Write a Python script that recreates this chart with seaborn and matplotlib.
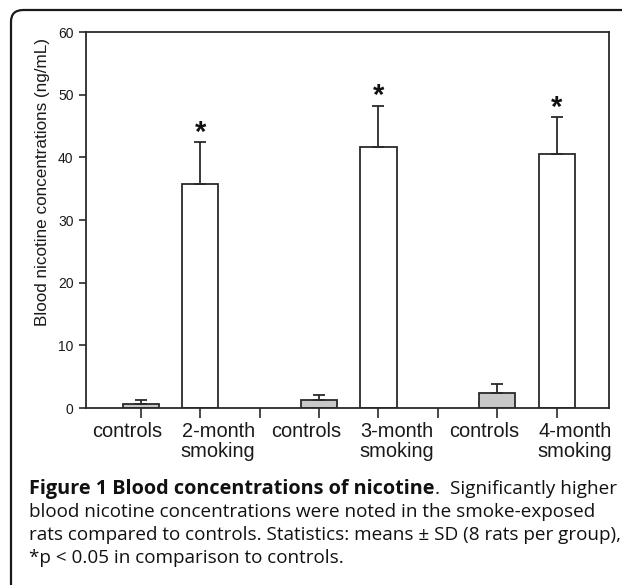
"""Blood nicotine concentrations bar chart (Figure 1)."""

import numpy as np
import pandas as pd
import seaborn as sns
import matplotlib.pyplot as plt
from matplotlib.patches import FancyBboxPatch
from matplotlib.transforms import ScaledTranslation

# Data
groups = ["controls", "2-month\nsmoking", "", "controls", "3-month\nsmoking", "", "controls", "4-month\nsmoking"]
slot_ids = ["c2", "s2", "gap1", "c3", "s3", "gap2", "c4", "s4"]
bar_ids = ["c2", "s2", "c3", "s3", "c4", "s4"]
means = [0.7, 35.8, 1.2, 41.7, 2.35, 40.5]
sds = [0.5, 6.6, 0.9, 6.5, 1.45, 5.9]
significant = [False, True, False, True, False, True]
bar_colors = ["#c8c8c8", "#ffffff", "#c8c8c8", "#ffffff", "#c8c8c8", "#ffffff"]

caption_bold = "Figure 1 Blood concentrations of nicotine"
caption_end = "Significantly higher"
caption_lines = [
    "blood nicotine concentrations were noted in the smoke-exposed",
    "rats compared to controls. Statistics: means \u00b1 SD (8 rats per group),",
    "*p < 0.05 in comparison to controls.",
]


def main() -> None:
    sns.set_style("ticks")
    plt.rcParams["font.family"] = ["Liberation Sans", "DejaVu Sans"]

    df = pd.DataFrame({"group": bar_ids, "mean": means, "sd": sds})

    fig = plt.figure(figsize=(6.22, 5.85), dpi=100)
    ax = fig.add_axes([86 / 622, 1 - 408 / 585, (609 - 86) / 622, (408 - 32) / 585])

    sns.barplot(
        data=df, x="group", y="mean", order=slot_ids, hue="group",
        palette=dict(zip(bar_ids, bar_colors)), legend=False,
        errorbar=None, width=0.61, edgecolor="#2a2a2a", linewidth=1.3, ax=ax,
    )

    # upper-only error bars and asterisks
    xpos = [slot_ids.index(b) for b in bar_ids]
    ax.errorbar(xpos, means, yerr=[np.zeros(len(sds)), sds], fmt="none",
                ecolor="#2a2a2a", elinewidth=1.3, capsize=4, capthick=1.3, zorder=3)
    for x, m, s, sig in zip(xpos, means, sds, significant):
        if sig:
            ax.text(x, m + s - 0.7, "*", ha="center", va="bottom",
                    fontsize=21, fontweight="bold", color="#111111")

    ax.set_xlim(-0.92, 7.88)
    ax.set_ylim(0, 60)
    ax.set_yticks(range(0, 61, 10))
    ax.set_xticks(range(len(slot_ids)))
    ax.set_xticklabels(groups, fontsize=14.4, linespacing=1.1)
    ax.tick_params(axis="y", labelsize=10, length=5, width=1.2, colors="#2a2a2a", pad=4)
    ax.tick_params(axis="x", length=7, width=1.2, colors="#2a2a2a", pad=3)
    # labels in the original sit off-centre from their ticks
    for lbl, g in zip(ax.get_xticklabels(), groups):
        lbl.set_color("#1a1a1a")
        dx = -13 / 100 if g == "controls" else 18 / 100
        lbl.set_transform(lbl.get_transform() + ScaledTranslation(dx, 0, fig.dpi_scale_trans))
    for lbl in ax.get_yticklabels():
        lbl.set_color("#1a1a1a")
    ax.set_xlabel("")
    ax.set_ylabel("Blood nicotine concentrations (ng/mL)", fontsize=12.3, color="#1a1a1a")
    ax.yaxis.set_label_coords(-0.068, 0.601)
    for sp in ax.spines.values():
        sp.set_visible(True)
        sp.set_linewidth(1.3)
        sp.set_color("#2a2a2a")

    # outer rounded frame
    frame = FancyBboxPatch((11 / 622, -0.2), 1.2, 1 - 10 / 585 + 0.2,
                           boxstyle="round,pad=0,rounding_size=0.02",
                           transform=fig.transFigure, fill=False,
                           edgecolor="#1a1a1a", linewidth=1.6)
    fig.patches.append(frame)

    # caption (first line is justified)
    cap_font = ["Open Sans", "DejaVu Sans"]
    cap_size = 13.55
    x0 = 29 / 622
    x_right = 617 / 622
    y_first = 1 - 489 / 585
    step = 23 / 585
    tb = fig.text(x0, y_first, caption_bold, fontsize=14.3, fontweight="bold",
                  family=cap_font, va="center", ha="left", color="#111111")
    fig.canvas.draw()
    bb = tb.get_window_extent().transformed(fig.transFigure.inverted())
    fig.text(bb.x1, y_first, ".", fontsize=cap_size, family=cap_font,
             va="center", ha="left", color="#111111")
    fig.text(x_right, y_first, caption_end, fontsize=cap_size, family=cap_font,
             va="center", ha="right", color="#111111")
    for i, line in enumerate(caption_lines, start=1):
        fig.text(x0, y_first - i * step, line, fontsize=cap_size, family=cap_font,
                 va="center", ha="left", color="#111111")

    fig.savefig("out.png", dpi=100)
    plt.close(fig)


if __name__ == "__main__":
    main()
